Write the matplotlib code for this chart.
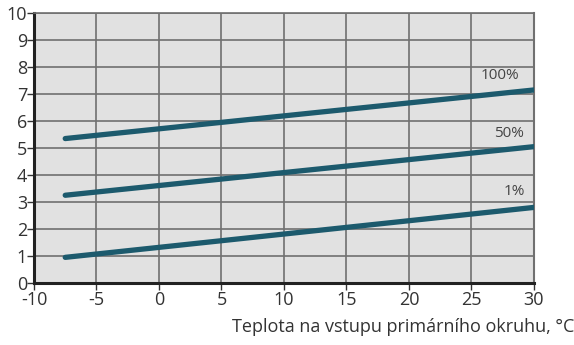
import matplotlib.pyplot as plt

temps = [-7.5, 30]
power_100 = [5.35, 7.15]
power_50 = [3.25, 5.05]
power_1 = [0.95, 2.8]
series_labels = ["100%", "50%", "1%"]
label_pos = [(27.3, 7.7), (28.0, 5.55), (28.4, 3.4)]
x_ticks = list(range(-10, 31, 5))
y_ticks = list(range(0, 11))

plt.rcParams["font.family"] = ["Open Sans", "DejaVu Sans"]
plt.rcParams["axes.unicode_minus"] = False

fig = plt.figure(figsize=(5.74, 3.45), dpi=100)
ax = fig.add_axes([0.0592, 0.1797, 0.871, 0.7826])
ax.set_facecolor("#e1e1e1")

line_color = "#1c5a6d"
for ys in (power_100, power_50, power_1):
    ax.plot(temps, ys, color=line_color, lw=3.8, solid_capstyle="round", zorder=3)

for text, (tx, ty) in zip(series_labels, label_pos):
    ax.text(tx, ty, text, ha="center", va="center", fontsize=11, color="#444444")

ax.set_xlim(-10, 30)
ax.set_ylim(0, 10)
ax.set_xticks(x_ticks)
ax.set_yticks(y_ticks)
ax.grid(True, color="#707070", lw=1.2, zorder=1)
ax.set_axisbelow(True)

for side in ("left", "bottom"):
    ax.spines[side].set_linewidth(2.2)
    ax.spines[side].set_color("#222222")
ax.spines["right"].set_color("#707070")
ax.spines["right"].set_linewidth(1.5)
ax.spines["top"].set_color("#707070")
ax.spines["top"].set_linewidth(1.2)

ax.tick_params(axis="both", direction="out", length=5, width=1, color="#333333",
               labelsize=13, labelcolor="#333333")
ax.tick_params(axis="x", pad=1)
ax.tick_params(axis="y", pad=0)

fig.text(1.0, 0.025, "Teplota na vstupu primárního okruhu, °C", ha="right", va="bottom",
         fontsize=13, color="#333333")

fig.savefig("out.png", dpi=100)
